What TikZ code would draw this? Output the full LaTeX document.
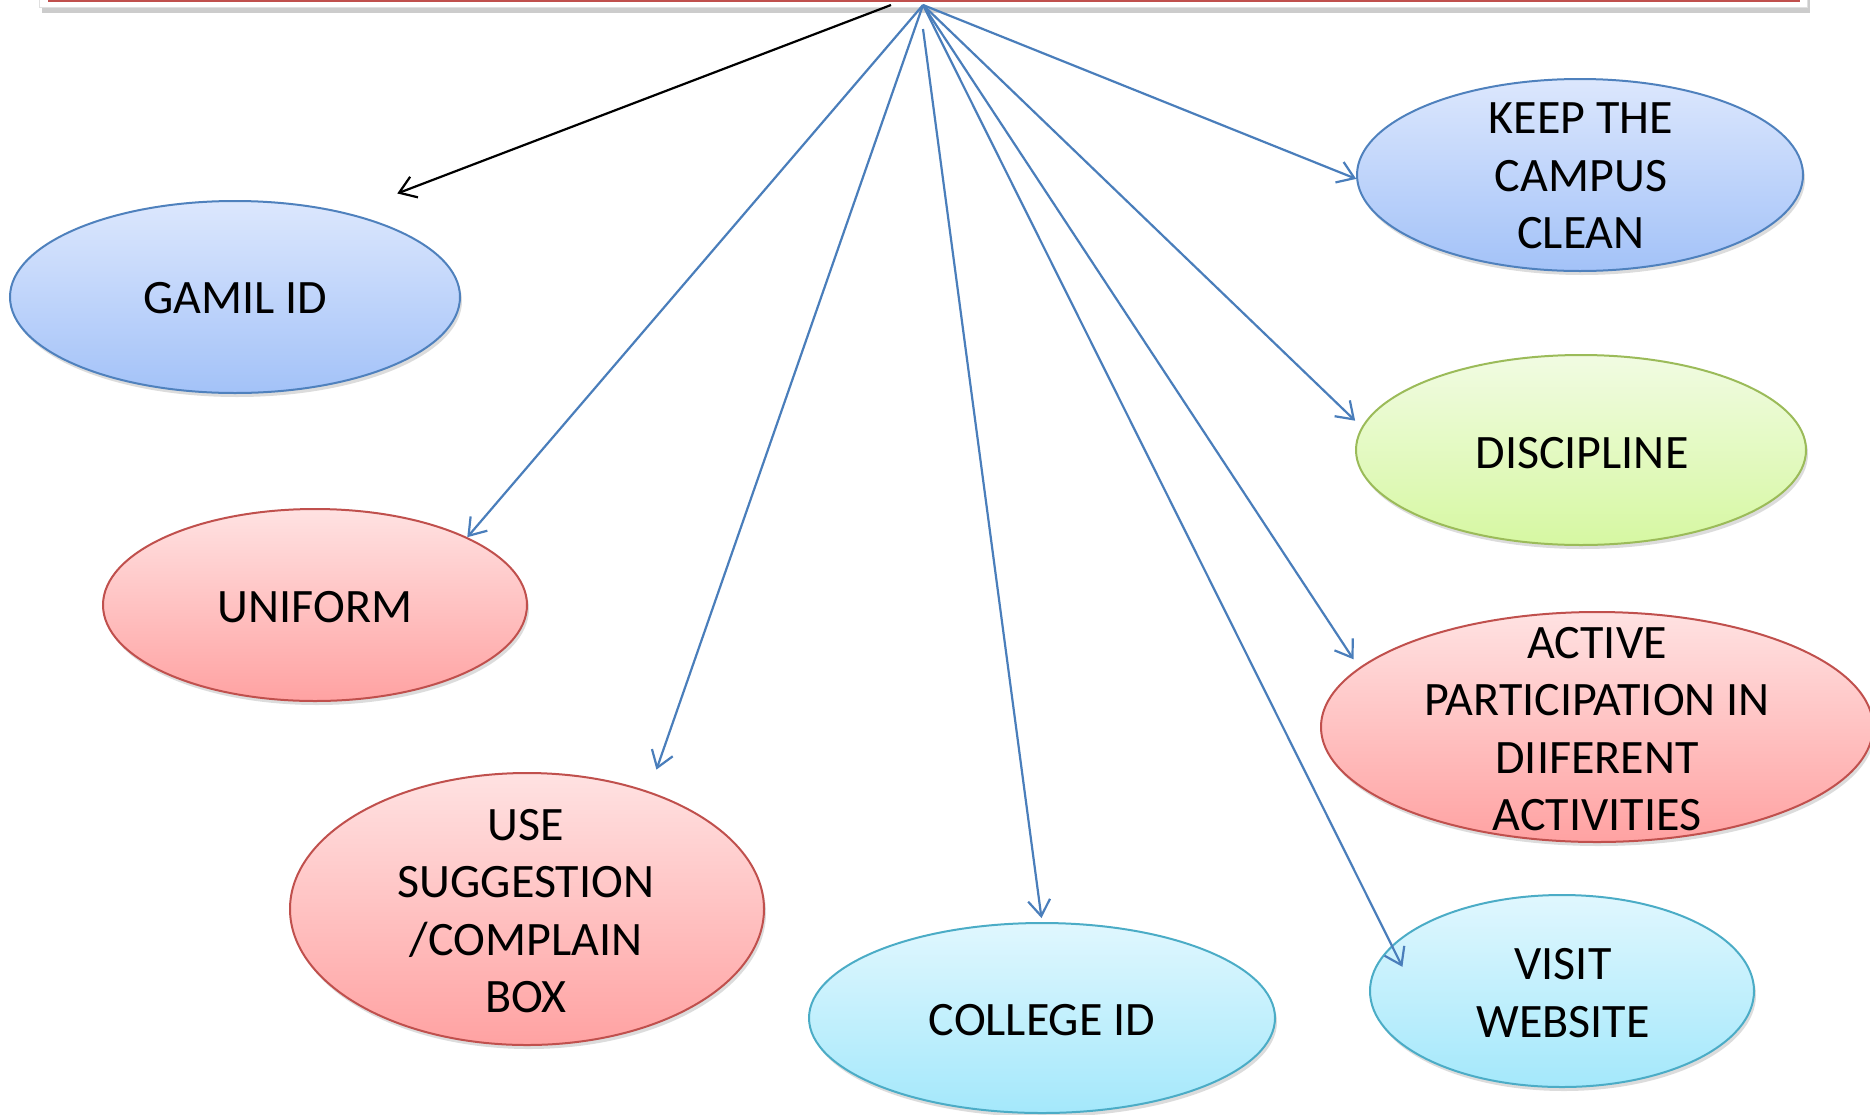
\documentclass[tikz,border=0pt]{standalone}
\usepackage{fontspec}
\setmainfont{Carlito}
\usepackage{tikz}
\usetikzlibrary{arrows.meta, positioning, shapes.geometric, shadows, calc}
\definecolor{linkblue}{HTML}{4A7EBB}
\definecolor{blueedge}{HTML}{4F81BD}
\definecolor{bluetop}{HTML}{DCE7FD}
\definecolor{bluebot}{HTML}{A3C2F8}
\definecolor{rededge}{HTML}{C0504D}
\definecolor{redtop}{HTML}{FFE2E2}
\definecolor{redbot}{HTML}{FFA2A2}
\definecolor{greenedge}{HTML}{9BBB59}
\definecolor{greentop}{HTML}{F1FBE2}
\definecolor{greenbot}{HTML}{D6F8A2}
\definecolor{cyanedge}{HTML}{4BACC6}
\definecolor{cyantop}{HTML}{E0F7FE}
\definecolor{cyanbot}{HTML}{A4E8FB}

\begin{document}
\begin{tikzpicture}[x=1pt, y=-1pt,
    bubble/.style={ellipse, line width=2pt, inner sep=0pt,
        general shadow={fill=black!30, opacity=.45, shadow xshift=2pt, shadow yshift=-4pt}},
    bluebubble/.style={bubble, draw=blueedge, top color=bluetop, bottom color=bluebot},
    redbubble/.style={bubble, draw=rededge, top color=redtop, bottom color=redbot},
    greenbubble/.style={bubble, draw=greenedge, top color=greentop, bottom color=greenbot},
    cyanbubble/.style={bubble, draw=cyanedge, top color=cyantop, bottom color=cyanbot},
    txt/.style={align=center, inner sep=0pt, font=\fontsize{48}{57.5}\selectfont},
    headbox/.style={rectangle, fill=white, draw=black!12, line width=1pt,
        minimum width=1768pt, minimum height=96pt,
        general shadow={fill=black!40, opacity=.5, shadow xshift=3pt, shadow yshift=-6pt}},
    link/.style={linkblue, line width=2.2pt, -{Straight Barb[length=16pt, width=22pt]}},
]
    \useasboundingbox (0,0) rectangle (1870,1114);
    % Header box, cut by the top edge
    \node[headbox] (head) at (923,-41) {};
    \draw[rededge, line width=2.5pt] ([xshift=9pt, yshift=7pt]head.south west) -- ([xshift=-8pt, yshift=7pt]head.south east);
    \coordinate (hub) at (923,5);
    % Left column
    \node[bluebubble, minimum width=450pt, minimum height=192pt] (gamil) at (235,297) {};
    \node[txt] (gamiltxt) at (235,298) {GAMIL ID};
    \node[redbubble, minimum width=424pt, minimum height=192pt] (uniform) at (315,605) {};
    \node[txt] (uniformtxt) at (315,607) {UNIFORM};
    \node[redbubble, minimum width=474pt, minimum height=272pt] (suggest) at (527,909) {};
    \node[txt] (suggesttxt) at (526,911) {USE\\SUGGESTION\\/COMPLAIN\\BOX};
    % Bottom row
    \node[cyanbubble, minimum width=466pt, minimum height=190pt] (college) at (1042,1018) {};
    \node[txt] (collegetxt) at (1042,1020) {COLLEGE ID};
    \node[cyanbubble, minimum width=384pt, minimum height=192pt] (visit) at (1562,991) {};
    \node[txt] (visittxt) at (1563,993) {VISIT\\WEBSITE};
    % Right column
    \node[bluebubble, minimum width=446pt, minimum height=192pt] (keep) at (1580,175) {};
    \node[txt] (keeptxt) at (1581,176) {KEEP THE\\CAMPUS\\CLEAN};
    \node[greenbubble, minimum width=450pt, minimum height=190pt] (discipline) at (1581,450) {};
    \node[txt] (disciplinetxt) at (1582,453) {DISCIPLINE};
    \node[redbubble, minimum width=552pt, minimum height=230pt] (active) at (1597,727) {};
    \node[txt] (activetxt) at (1597,729) {ACTIVE\\PARTICIPATION IN\\DIIFERENT\\ACTIVITIES};
    % Arrows from the header
    \draw[black, line width=2.2pt, -{Straight Barb[length=16pt, width=22pt]}, shorten >=54pt] ([xshift=-32pt]hub) -- (gamil.37);
    \draw[link] (hub) -- (uniform.24);
    \draw[link, shorten >=23pt] (hub) -- (suggest.44);
    \draw[link, shorten >=4pt] ([yshift=-24pt]hub) -- (college.north);
    \draw[link, shorten >=-24pt] (hub) -- (visit.165);
    \draw[link, shorten >=10pt] (hub) -- (active.166);
    \draw[link, shorten >=9pt] (hub) -- (discipline.174);
    \draw[link] (hub) -- (keep.181);
\end{tikzpicture}
\end{document}
